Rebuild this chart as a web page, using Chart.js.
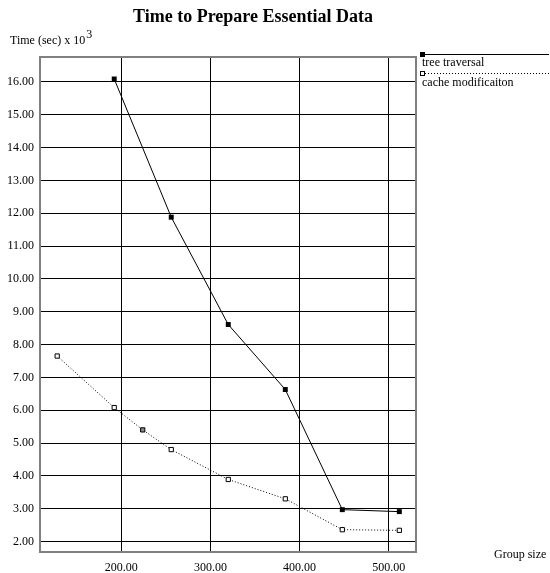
<!DOCTYPE html>
<html>
<head>
<meta charset="utf-8">
<script src="https://cdn.jsdelivr.net/npm/chart.js@4"></script>
<style>
  body { margin: 0; background: #fff; }
  canvas { display: block; }
</style>
</head>
<body>
<canvas id="grafico" width="550" height="573"></canvas>
<script>
// Datos
const gruposArbol = [192, 256, 320, 384, 448, 512];
const tiempoArbol = [16.09, 11.88, 8.61, 6.63, 2.97, 2.91];
const gruposCache = [128, 192, 224, 256, 320, 384, 448, 512];
const tiempoCache = [7.65, 6.08, 5.40, 4.80, 3.89, 3.30, 2.36, 2.34];
const ticksX = [200, 300, 400, 500];
const ticksY = [2, 3, 4, 5, 6, 7, 8, 9, 10, 11, 12, 13, 14, 15, 16];
const nombresSeries = ['tree traversal', 'cache modificaiton'];

const fuente = '"Liberation Serif", "DejaVu Serif", serif';
Chart.defaults.font.family = fuente;
Chart.defaults.font.size = 12;
Chart.defaults.color = '#000';

// Textos, marco y leyenda dibujados a mano
const decoracion = {
  id: 'decoracion',
  afterDraw(chart) {
    const ctx = chart.ctx;
    const area = chart.chartArea;
    ctx.save();

    // marco gris del área
    ctx.strokeStyle = '#808080';
    ctx.lineWidth = 2;
    ctx.strokeRect(area.left, area.top, area.right - area.left, area.bottom - area.top);

    // título
    ctx.fillStyle = '#000';
    ctx.textAlign = 'center';
    ctx.textBaseline = 'alphabetic';
    ctx.font = 'bold 18px ' + fuente;
    ctx.fillText('Time to Prepare Essential Data', 253, 22);

    // etiqueta eje y con exponente
    ctx.textAlign = 'left';
    ctx.font = '12px ' + fuente;
    const texto = 'Time (sec) x 10';
    ctx.fillText(texto, 10, 44);
    const ancho = ctx.measureText(texto).width;
    ctx.fillText('3', 10 + ancho + 1, 38);

    // etiqueta eje x
    ctx.fillText('Group size', 494, 558);

    // leyenda
    const xl = 422;
    // serie 1
    ctx.strokeStyle = '#000';
    ctx.lineWidth = 1;
    ctx.beginPath();
    ctx.moveTo(xl, 54.5);
    ctx.lineTo(549, 54.5);
    ctx.stroke();
    ctx.fillRect(xl - 2, 52, 5, 5);
    ctx.fillText(nombresSeries[0], xl, 66);
    // serie 2
    ctx.setLineDash([1, 2]);
    ctx.beginPath();
    ctx.moveTo(xl, 73.5);
    ctx.lineTo(549, 73.5);
    ctx.stroke();
    ctx.setLineDash([]);
    ctx.fillStyle = '#fff';
    ctx.fillRect(xl - 2, 71, 4, 4);
    ctx.strokeRect(xl - 1.5, 71.5, 4, 4);
    ctx.fillStyle = '#000';
    ctx.fillText(nombresSeries[1], xl, 86);

    ctx.restore();
  }
};

new Chart(document.getElementById('grafico'), {
  type: 'line',
  data: {
    datasets: [
      {
        label: nombresSeries[0],
        data: gruposArbol.map((g, i) => ({ x: g, y: tiempoArbol[i] })),
        borderColor: '#000',
        borderWidth: 1,
        pointStyle: 'rect',
        pointRadius: 3.5,
        pointBackgroundColor: '#000',
        pointBorderColor: '#000',
        pointBorderWidth: 0,
        tension: 0
      },
      {
        label: nombresSeries[1],
        data: gruposCache.map((g, i) => ({ x: g, y: tiempoCache[i] })),
        borderColor: '#000',
        borderWidth: 1,
        borderDash: [1, 2],
        pointStyle: 'rect',
        pointRadius: 3,
        pointBackgroundColor: c => (c.raw && c.raw.x === 224 ? '#888' : '#fff'),
        pointBorderColor: '#000',
        pointBorderWidth: 1,
        tension: 0
      }
    ]
  },
  options: {
    responsive: false,
    animation: false,
    layout: { padding: { top: 57, right: 134, left: 0, bottom: 0 } },
    plugins: {
      legend: { display: false },
      title: { display: false },
      tooltip: { enabled: false }
    },
    scales: {
      x: {
        type: 'linear',
        min: 108.7,
        max: 530.7,
        afterBuildTicks: s => { s.ticks = ticksX.map(v => ({ value: v })); },
        afterFit: s => { s.height = 21; },
        grid: { color: '#000', lineWidth: 1, drawTicks: false },
        border: { display: false },
        ticks: {
          padding: 9,
          maxRotation: 0,
          callback: v => Number(v).toFixed(2)
        }
      },
      y: {
        type: 'linear',
        min: 1.68,
        max: 16.76,
        afterBuildTicks: s => { s.ticks = ticksY.map(v => ({ value: v })); },
        afterFit: s => { s.width = 40; },
        grid: { color: '#000', lineWidth: 1, drawTicks: false },
        border: { display: false },
        ticks: {
          padding: 6,
          callback: v => Number(v).toFixed(2)
        }
      }
    }
  },
  plugins: [decoracion]
});
</script>
</body>
</html>
